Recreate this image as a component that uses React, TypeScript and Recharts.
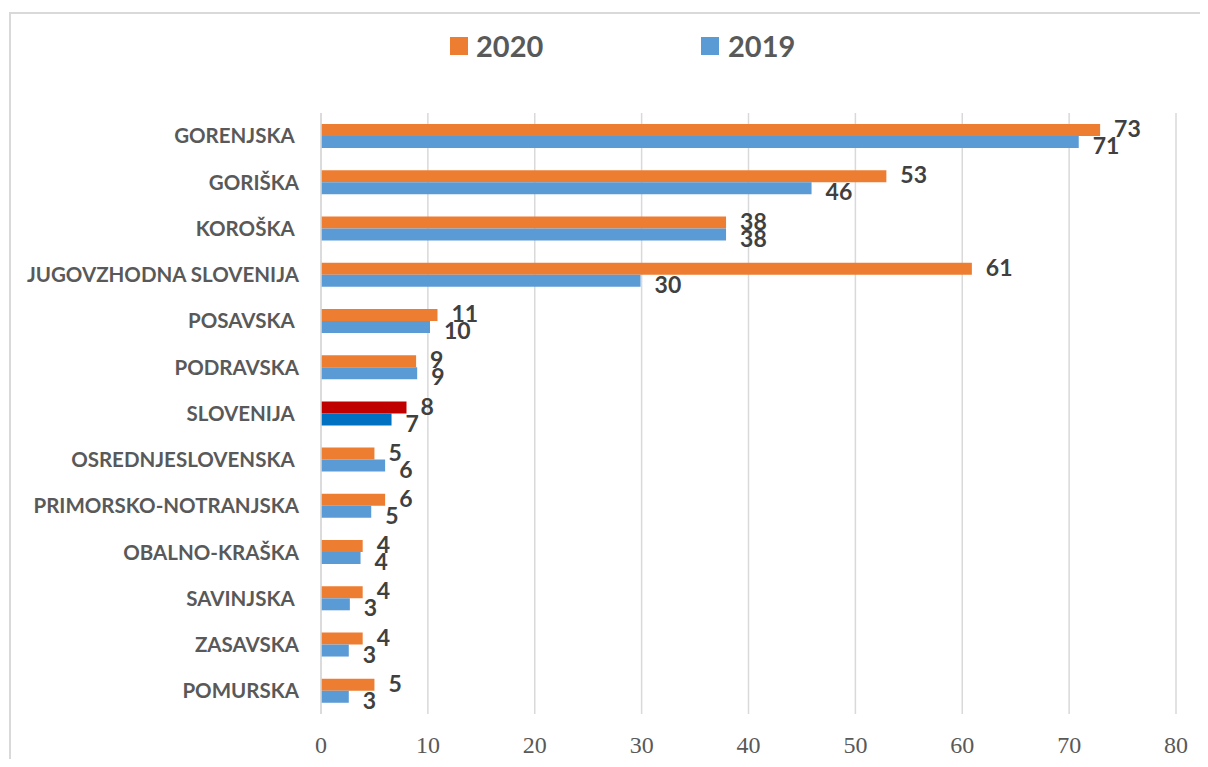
import { BarChart, Bar, XAxis, YAxis, CartesianGrid, LabelList, Cell } from 'recharts';

const regions = [
  'GORENJSKA ',
  'GORIŠKA',
  'KOROŠKA ',
  'JUGOVZHODNA SLOVENIJA',
  'POSAVSKA ',
  'PODRAVSKA',
  'SLOVENIJA ',
  'OSREDNJESLOVENSKA ',
  'PRIMORSKO-NOTRANJSKA',
  'OBALNO-KRAŠKA',
  'SAVINJSKA ',
  'ZASAVSKA',
  'POMURSKA',
];

const values2020 = [72.9, 52.9, 37.9, 60.9, 10.9, 8.9, 8.0, 5.0, 6.0, 3.9, 3.9, 3.9, 5.0];
const values2019 = [70.9, 45.9, 37.9, 29.9, 10.2, 9.0, 6.6, 6.0, 4.7, 3.7, 2.7, 2.6, 2.6];

const xTicks = [0, 10, 20, 30, 40, 50, 60, 70, 80];

const ORANGE = '#ED7D31';
const BLUE = '#5B9BD5';
const DARK_RED = '#C00000';
const DARK_BLUE = '#0070C0';

const data = regions.map((name, i) => ({
  name,
  y2020: values2020[i],
  y2019: values2019[i],
}));

const CategoryTick = ({ x, y, payload }: any) => (
  <text
    x={x}
    y={y}
    dy="0.36em"
    textAnchor="end"
    fill="#595959"
    fontFamily="Lato"
    fontWeight={700}
    fontSize={20.5}
    style={{ whiteSpace: 'pre' }}
  >
    {payload.value}
  </text>
);

// legend sits above the plot, drawn outside recharts so it doesn't push the plot down
const LegendBox = () => (
  <div
    style={{
      position: 'absolute',
      top: 20,
      left: 442,
      display: 'flex',
      alignItems: 'center',
      fontFamily: 'Lato',
      fontWeight: 700,
      fontSize: 29,
      color: '#595959',
      lineHeight: '36px',
    }}
  >
    <span style={{ width: 18, height: 18, background: ORANGE, display: 'inline-block', marginRight: 8 }} />
    <span style={{ width: 225 }}>2020</span>
    <span style={{ width: 18, height: 18, background: BLUE, display: 'inline-block', marginRight: 9 }} />
    <span>2019</span>
  </div>
);

const labelFmt = (v: any) => Math.round(Number(v));

export default function App() {
  return (
    <div style={{ width: 1200, height: 751, overflow: 'hidden', position: 'relative', background: '#fff' }}>
      <div
        style={{
          position: 'absolute',
          left: 1,
          top: 4,
          width: 1400,
          height: 1000,
          borderLeft: '2px solid #d9d9d9',
          borderTop: '2px solid #d9d9d9',
        }}
      />
      <LegendBox />
      <div style={{ position: 'absolute', left: 0, top: 0 }}>
        <BarChart
          width={1192}
          height={751}
          data={data}
          layout="vertical"
          margin={{ top: 105, right: 24, bottom: 0, left: 0 }}
          barSize={12}
          barGap={0}
        >
          <CartesianGrid horizontal={false} stroke="#d9d9d9" strokeWidth={1.5} />
          <XAxis
            type="number"
            domain={[0, 80]}
            ticks={xTicks}
            height={45}
            axisLine={false}
            tickLine={false}
            tickSize={0}
            tickMargin={22}
            tick={{ fill: '#595959', fontFamily: 'Liberation Serif', fontSize: 24 }}
          />
          <YAxis
            type="category"
            dataKey="name"
            width={313}
            axisLine={{ stroke: '#d9d9d9', strokeWidth: 1.5 }}
            tickLine={false}
            tickSize={0}
            tickMargin={22}
            tick={<CategoryTick />}
            interval={0}
          />
          <Bar dataKey="y2020" name="2020" fill={ORANGE} isAnimationActive={false}>
            {data.map((d) => (
              <Cell key={d.name} fill={d.name.trim() === 'SLOVENIJA' ? DARK_RED : ORANGE} />
            ))}
            <LabelList
              dataKey="y2020"
              position="right"
              offset={14}
              formatter={labelFmt}
              fill="#404040"
              fontFamily="Lato"
              fontWeight={700}
              fontSize={23}
              dy={-1}
            />
          </Bar>
          <Bar dataKey="y2019" name="2019" fill={BLUE} isAnimationActive={false}>
            {data.map((d) => (
              <Cell key={d.name} fill={d.name.trim() === 'SLOVENIJA' ? DARK_BLUE : BLUE} />
            ))}
            <LabelList
              dataKey="y2019"
              position="right"
              offset={14}
              formatter={labelFmt}
              fill="#404040"
              fontFamily="Lato"
              fontWeight={700}
              fontSize={23}
              dy={4}
            />
          </Bar>
        </BarChart>
      </div>
    </div>
  );
}
